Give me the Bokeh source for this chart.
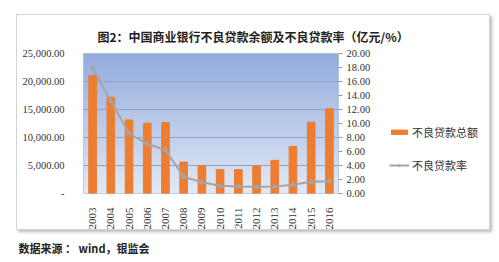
import numpy as np
from bokeh.plotting import figure
from bokeh.models import (FactorRange, Range1d, LinearAxis, FixedTicker, NumeralTickFormatter,
                          Title, Legend, LegendItem, InlineStyleSheet)
from bokeh.embed import file_html
from bokeh.resources import INLINE

years = ["2003", "2004", "2005", "2006", "2007", "2008", "2009", "2010", "2011",
         "2012", "2013", "2014", "2015", "2016"]
npl_amount = [21045, 17176, 13134, 12549, 12684, 5603, 4973, 4293, 4279, 4929, 5921, 8426, 12744, 15123]
npl_rate = [17.9, 13.2, 8.6, 7.1, 6.2, 2.4, 1.6, 1.1, 1.0, 0.95, 1.0, 1.25, 1.67, 1.74]
left_ticks = [0, 5000, 10000, 15000, 20000, 25000]
right_ticks = [0, 2, 4, 6, 8, 10, 12, 14, 16, 18, 20]

title_text = "图2：中国商业银行不良贷款余额及不良贷款率（亿元/%）"
source_text = "数据来源 ： wind，银监会"
legend_labels = ["不良贷款总额", "不良贷款率"]

W, H = 499, 262
FL, FR, FT, FB = 83, 338, 53, 193

p = figure(frame_width=FR - FL, frame_height=FB - FT, output_backend="svg", toolbar_location=None,
           x_range=FactorRange(*years, range_padding=0), y_range=Range1d(0, 25000),
           min_border_left=FL, min_border_right=0, min_border_top=FT, min_border_bottom=H - FB)
p.extra_y_ranges = {"rate": Range1d(0, 20)}
p.background_fill_color = "white"
p.border_fill_color = "white"
p.outline_line_color = "#b8c4d8"

# outer frame with shadow (CSS decoration)
p.stylesheets = [InlineStyleSheet(css=(
    ":host { position: relative; }"
    ":host::after { content: ''; position: absolute; left: 16px; top: 14px; width: 472px; height: 214px;"
    " border: 1px solid #d4d4d4; box-shadow: 2px 2px 3px rgba(0,0,0,0.28); pointer-events: none; }"))]

# gradient background
n = 64
t = np.linspace(0, 1, n)[:, None]  # 0 bottom -> 1 top
bot = np.array([226, 233, 246])
top = np.array([148, 172, 221])
cols = (bot + (top - bot) * t).astype(np.uint32)
img = np.empty((n, 1), dtype=np.uint32)
view = img.view(dtype=np.uint8).reshape((n, 1, 4))
view[:, :, 0] = cols[:, 0:1]
view[:, :, 1] = cols[:, 1:2]
view[:, :, 2] = cols[:, 2:3]
view[:, :, 3] = 255
p.image_rgba(image=[img], x=0, y=0, dw=len(years), dh=25000, level="image")

p.ygrid.ticker = FixedTicker(ticks=left_ticks)
p.ygrid.grid_line_color = "#8ea3cc"
p.ygrid.grid_line_width = 1
p.ygrid.level = "underlay"
p.xgrid.grid_line_color = None

bars = p.vbar(x=years, top=npl_amount, width=0.42, color="#ED7D31")
line = p.line(x=years, y=npl_rate, y_range_name="rate", line_color="#A5A5A5", line_width=2)
marks = p.scatter(x=years, y=npl_rate, y_range_name="rate", marker="triangle", size=5,
                  color="#A5A5A5")

# left axis
ax = p.yaxis[0]
ax.ticker = FixedTicker(ticks=left_ticks)
ax.formatter = NumeralTickFormatter(format="0,0.00")
ax.major_label_overrides = {0: "-"}
ax.axis_line_color = None
ax.major_tick_line_color = None
ax.minor_tick_line_color = None
ax.major_label_standoff = 13
ax.major_label_text_font = "Liberation Serif"
ax.major_label_text_font_size = "10.5px"
ax.major_label_text_color = "#333333"

# right axis
ra = LinearAxis(y_range_name="rate", ticker=FixedTicker(ticks=right_ticks),
                formatter=NumeralTickFormatter(format="0.00"))
ra.axis_line_color = None
ra.major_tick_line_color = "#999999"
ra.major_tick_in = 0
ra.major_tick_out = 4
ra.minor_tick_line_color = None
ra.major_label_standoff = 4
ra.major_label_text_font = "Liberation Serif"
ra.major_label_text_font_size = "10.5px"
ra.major_label_text_color = "#333333"
p.add_layout(ra, "right")

# x axis
xa = p.xaxis[0]
xa.major_label_orientation = np.pi / 2
xa.axis_line_color = None
xa.major_tick_line_color = None
xa.minor_tick_line_color = None
xa.major_label_standoff = 8
xa.major_label_text_font = "Liberation Serif"
xa.major_label_text_font_size = "11px"
xa.major_label_text_color = "#333333"

# title and source
p.title.text = title_text
p.title.align = "left"
p.title.offset = 14
p.title.standoff = 17
p.title.text_font = "Noto Sans CJK SC"
p.title.text_font_style = "bold"
p.title.text_font_size = "12px"
p.title.text_color = "#222222"

src = Title(text=source_text, align="left", offset=-65, standoff=10,
            text_font="Noto Sans CJK SC", text_font_style="bold", text_font_size="11px",
            text_color="#222222")
p.add_layout(src, "below")

legend = Legend(items=[LegendItem(label=legend_labels[0], renderers=[bars]),
                       LegendItem(label=legend_labels[1], renderers=[line, marks])],
                location=(-224, 20), background_fill_alpha=0, border_line_color=None,
                label_text_font="Noto Sans CJK SC", label_text_font_size="11px",
                label_text_color="#333333", glyph_width=20, glyph_height=6,
                spacing=17, label_standoff=3, padding=0, margin=0)
p.add_layout(legend, "right")

open("out.html", "w").write(file_html(p, INLINE))
